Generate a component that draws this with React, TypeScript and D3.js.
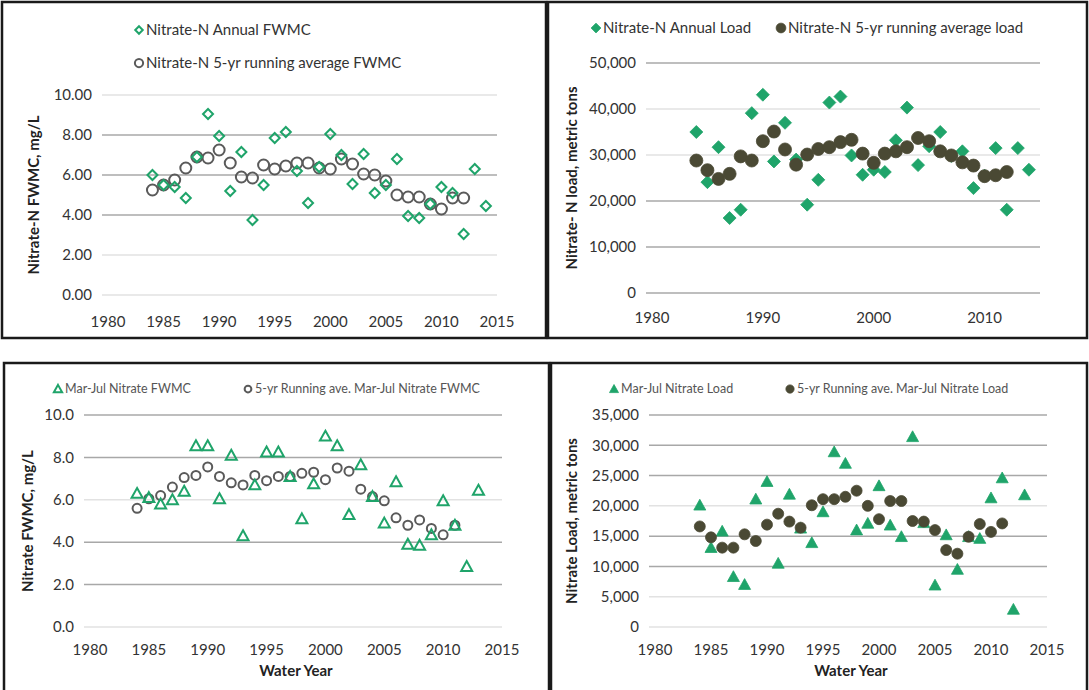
import React from 'react';
import * as d3 from 'd3';

// water years start at 1984 for every series
const firstYear = 1984;
const xTicks = [1980, 1985, 1990, 1995, 2000, 2005, 2010, 2015];
const xTicksLoad = [1980, 1990, 2000, 2010];

// Nitrate-N annual FWMC, mg/L (1984-2014)
const annualFwmc = [6.0, 5.5, 5.4, 4.85, 6.9, 9.05, 7.95, 5.2, 7.15, 3.75, 5.5, 7.85, 8.15, 6.2, 4.6, 6.4, 8.05, 7.0, 5.55, 7.05, 5.1, 5.5, 6.8, 3.95, 3.85, 4.55, 5.4, 5.1, 3.05, 6.3, 4.45];
// 5-yr running average FWMC (1984-2012)
const avgFwmc = [5.25, 5.5, 5.75, 6.35, 6.9, 6.85, 7.25, 6.6, 5.9, 5.85, 6.5, 6.3, 6.45, 6.6, 6.6, 6.35, 6.3, 6.8, 6.55, 6.05, 6.0, 5.7, 5.0, 4.9, 4.9, 4.55, 4.3, 4.85, 4.85];

// Nitrate-N annual load, metric tons (1984-2014)
const annualLoad = [35000, 24100, 31700, 16300, 18100, 39100, 43100, 28600, 37000, 29000, 19200, 24600, 41400, 42700, 29900, 25700, 26800, 26300, 33200, 40300, 27800, 31900, 35000, 29800, 30800, 22800, 25500, 31500, 18100, 31500, 26800];
const avgLoad = [28800, 26700, 24800, 25900, 29700, 28800, 33000, 35100, 31200, 27900, 30100, 31300, 31700, 32800, 33300, 30300, 28300, 30300, 30800, 31700, 33700, 33000, 30800, 29900, 28400, 27700, 25400, 25600, 26300];

// Mar-Jul FWMC (1984-2013) and running average (1984-2011)
const marJulFwmc = [6.3, 6.1, 5.8, 6.0, 6.4, 8.55, 8.55, 6.05, 8.1, 4.3, 6.7, 8.25, 8.25, 7.1, 5.1, 6.75, 9.0, 8.55, 5.3, 7.65, 6.15, 4.9, 6.85, 3.9, 3.85, 4.35, 5.95, 4.8, 2.85, 6.45];
const avgMarJulFwmc = [5.6, 6.05, 6.2, 6.6, 7.05, 7.15, 7.55, 7.1, 6.8, 6.7, 7.15, 6.9, 7.1, 7.1, 7.25, 7.3, 6.95, 7.5, 7.35, 6.5, 6.15, 5.95, 5.15, 4.8, 5.05, 4.65, 4.35, 4.8];

// Mar-Jul load (1984-2013) and running average (1984-2011)
const marJulLoad = [20100, 13100, 15800, 8300, 7000, 21100, 24000, 10500, 21900, 16300, 13900, 19000, 28900, 27000, 16000, 17100, 23300, 16800, 14900, 31400, 17200, 6900, 15200, 9500, 14900, 14600, 21300, 24600, 2900, 21800];
const avgMarJulLoad = [16600, 14800, 13100, 13100, 15300, 14200, 16900, 18700, 17400, 16400, 20100, 21100, 21100, 21500, 22500, 20000, 17800, 20800, 20800, 17500, 17400, 16000, 12700, 12100, 14900, 17000, 15700, 17100];

const GREEN = '#1fa46a';
const DARK = '#4a4934';
const GREY = '#5a5a5a';
const FONT = 'Lato, "Open Sans", sans-serif';

type Shape = 'diamond' | 'circle' | 'triangle';

interface Series {
  values: number[];
  shape: Shape;
  filled: boolean;
  color: string;
  r: number;
}

const markerPath = (shape: Shape, r: number) => {
  if (shape === 'diamond') return `M0,${-r}L${r},0L0,${r}L${-r},0Z`;
  if (shape === 'triangle') return `M0,${-r}L${r},${r * 0.8}L${-r},${r * 0.8}Z`;
  return d3.symbol(d3.symbolCircle, Math.PI * r * r)() || '';
};

const Marker = ({ s, x, y }: { s: Series; x: number; y: number }) => (
  <path
    d={markerPath(s.shape, s.r)}
    transform={`translate(${x},${y})`}
    fill={s.filled ? s.color : 'none'}
    stroke={s.color}
    strokeWidth={s.filled ? 0.8 : 2}
  />
);

interface PanelProps {
  frame: [number, number, number, number];
  xRange: [number, number];
  yRange: [number, number];
  yMax: number;
  yTicks: number[];
  yFormat: (v: number) => string;
  xTicks: number[];
  xLabelY: number;
  darkGrid: number[];
  series: Series[];
  legend: { s: Series; label: string; x: number; y: number; size: number; color: string }[];
  yTitle: string;
  yTitleX: number;
  xTitle?: string;
  xTitleY?: number;
}

const Panel = (p: PanelProps) => {
  const x = d3.scaleLinear().domain([1980, 2015]).range(p.xRange);
  const y = d3.scaleLinear().domain([0, p.yMax]).range(p.yRange);
  const [fx, fy, fw, fh] = p.frame;
  const midY = (p.yRange[0] + p.yRange[1]) / 2;
  return (
    <g>
      <rect x={fx} y={fy} width={fw} height={fh} fill="#fff" stroke="#1a1a1a" strokeWidth={2.5} />
      {p.yTicks.map(t => (
        <g key={t}>
          <line
            x1={p.xRange[0] - 6}
            x2={p.xRange[1]}
            y1={y(t)}
            y2={y(t)}
            stroke={p.darkGrid.includes(t) ? '#a8a8a8' : '#e2e2e2'}
            strokeWidth={1.5}
          />
          <text x={p.xRange[0] - 16} y={y(t)} dy="0.35em" textAnchor="end" fontSize={15} fill="#333">
            {p.yFormat(t)}
          </text>
        </g>
      ))}
      {p.xTicks.map(t => (
        <text key={t} x={x(t)} y={p.xLabelY} textAnchor="middle" fontSize={15} fill="#333">
          {t}
        </text>
      ))}
      {p.series.map((s, si) =>
        s.values.map((v, i) => <Marker key={`${si}-${i}`} s={s} x={x(firstYear + i)} y={y(v)} />)
      )}
      {p.legend.map((l, i) => (
        <g key={i}>
          <Marker s={{ ...l.s, r: l.s.r * 0.75 }} x={l.x} y={l.y} />
          <text x={l.x + 7} y={l.y} dy="0.35em" fontSize={l.size} fill={l.color}>
            {l.label}
          </text>
        </g>
      ))}
      <text
        transform={`translate(${p.yTitleX},${midY}) rotate(-90)`}
        textAnchor="middle"
        fontSize={15}
        fontWeight="bold"
        fill="#222"
      >
        {p.yTitle}
      </text>
      {p.xTitle && (
        <text
          x={(p.xRange[0] + p.xRange[1]) / 2}
          y={p.xTitleY}
          textAnchor="middle"
          fontSize={15}
          fontWeight="bold"
          fill="#222"
        >
          {p.xTitle}
        </text>
      )}
    </g>
  );
};

export default function App() {
  const sAnnualFwmc: Series = { values: annualFwmc, shape: 'diamond', filled: false, color: GREEN, r: 5 };
  const sAvgFwmc: Series = { values: avgFwmc, shape: 'circle', filled: false, color: GREY, r: 5.5 };
  const sAnnualLoad: Series = { values: annualLoad, shape: 'diamond', filled: true, color: GREEN, r: 6.5 };
  const sAvgLoad: Series = { values: avgLoad, shape: 'circle', filled: true, color: DARK, r: 6.5 };
  const sMjFwmc: Series = { values: marJulFwmc, shape: 'triangle', filled: false, color: GREEN, r: 5.5 };
  const sAvgMjFwmc: Series = { values: avgMarJulFwmc, shape: 'circle', filled: false, color: GREY, r: 4.5 };
  const sMjLoad: Series = { values: marJulLoad, shape: 'triangle', filled: true, color: GREEN, r: 6 };
  const sAvgMjLoad: Series = { values: avgMarJulLoad, shape: 'circle', filled: true, color: DARK, r: 5.5 };

  const f2 = d3.format('.2f');
  const f1 = d3.format('.1f');
  const fc = d3.format(',');

  return (
    <svg
      width={1089}
      height={690}
      style={{ position: 'absolute', left: 0, top: 0, fontFamily: FONT }}
    >
      <rect width={1089} height={690} fill="#fff" />
      <Panel
        frame={[2, 2, 544, 336]}
        xRange={[108, 497]}
        yRange={[295, 95]}
        yMax={10}
        yTicks={[0, 2, 4, 6, 8, 10]}
        yFormat={f2}
        xTicks={xTicks}
        xLabelY={327}
        darkGrid={[4, 6, 8]}
        series={[sAvgFwmc, sAnnualFwmc]}
        legend={[
          { s: sAnnualFwmc, label: 'Nitrate-N Annual FWMC', x: 139, y: 30, size: 15, color: '#333' },
          { s: sAvgFwmc, label: 'Nitrate-N 5-yr running average FWMC', x: 139, y: 63, size: 15, color: '#333' },
        ]}
        yTitle="Nitrate-N FWMC, mg/L"
        yTitleX={39}
      />
      <Panel
        frame={[548, 2, 539, 336]}
        xRange={[652, 1040]}
        yRange={[293, 63]}
        yMax={50000}
        yTicks={[0, 10000, 20000, 30000, 40000, 50000]}
        yFormat={fc}
        xTicks={xTicksLoad}
        xLabelY={323}
        darkGrid={[0, 10000, 20000, 50000]}
        series={[sAnnualLoad, sAvgLoad]}
        legend={[
          { s: sAnnualLoad, label: 'Nitrate-N Annual Load', x: 596, y: 28, size: 15, color: '#333' },
          { s: sAvgLoad, label: 'Nitrate-N 5-yr running average load', x: 781, y: 28, size: 15, color: '#333' },
        ]}
        yTitle="Nitrate- N  load, metric tons"
        yTitleX={577}
      />
      <Panel
        frame={[4, 363, 545, 330]}
        xRange={[90, 502]}
        yRange={[627, 415]}
        yMax={10}
        yTicks={[0, 2, 4, 6, 8, 10]}
        yFormat={f1}
        xTicks={xTicks}
        xLabelY={655}
        darkGrid={[2, 4, 8, 10]}
        series={[sAvgMjFwmc, sMjFwmc]}
        legend={[
          { s: sMjFwmc, label: 'Mar-Jul Nitrate FWMC', x: 58, y: 389, size: 12.5, color: '#555' },
          { s: sAvgMjFwmc, label: '5-yr Running ave. Mar-Jul Nitrate FWMC', x: 248, y: 389, size: 12.5, color: '#555' },
        ]}
        yTitle="Nitrate  FWMC, mg/L"
        yTitleX={33}
        xTitle="Water Year"
        xTitleY={676}
      />
      <Panel
        frame={[551, 363, 536, 330]}
        xRange={[655, 1047]}
        yRange={[627, 415]}
        yMax={35000}
        yTicks={[0, 5000, 10000, 15000, 20000, 25000, 30000, 35000]}
        yFormat={fc}
        xTicks={xTicks}
        xLabelY={655}
        darkGrid={[10000, 15000, 25000, 30000, 35000]}
        series={[sMjLoad, sAvgMjLoad]}
        legend={[
          { s: sMjLoad, label: 'Mar-Jul Nitrate Load', x: 614, y: 389, size: 12.5, color: '#555' },
          { s: sAvgMjLoad, label: '5-yr Running ave. Mar-Jul Nitrate Load', x: 790, y: 389, size: 12.5, color: '#555' },
        ]}
        yTitle="Nitrate  Load, metric tons"
        yTitleX={577}
        xTitle="Water Year"
        xTitleY={676}
      />
    </svg>
  );
}
